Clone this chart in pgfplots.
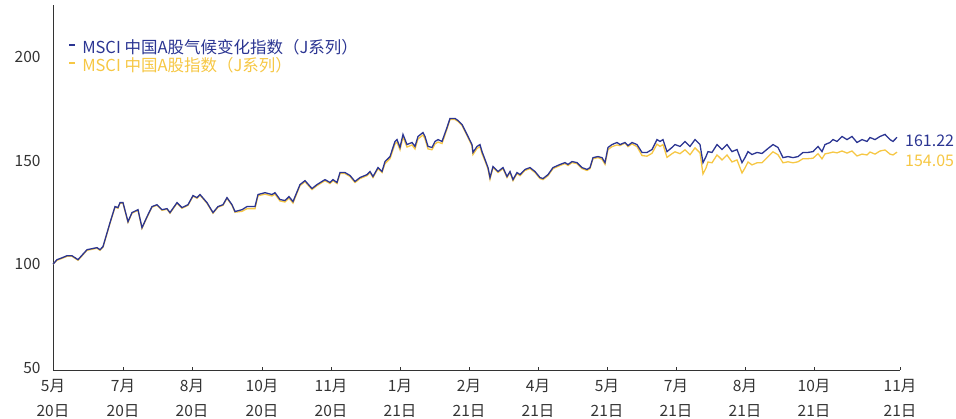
\documentclass[border=0pt]{standalone}
\usepackage{pgfplots}
\pgfplotsset{compat=1.18}
\usepackage{pgfplotstable}
\usepackage{fontspec}
\setmainfont{Noto Sans CJK SC}
\definecolor{cblue}{HTML}{2B3592}
\definecolor{cyel}{HTML}{F6C744}
\definecolor{ctxt}{HTML}{333333}

\pgfplotstableread{
x v
53 100.0
57 102.2
62 103.1
67 104.1
72 104.1
78 102.2
87 107.0
92 107.5
97 108.0
100 107.0
103 108.5
110 120.0
115 127.8
118 127.3
120 129.7
123 129.7
128 120.5
132 124.9
138 126.3
142 117.6
147 122.9
152 127.8
157 128.7
162 126.3
167 126.8
170 124.9
177 129.7
182 127.3
188 128.7
193 133.1
197 132.1
200 133.6
207 129.7
213 124.9
218 127.8
223 128.7
227 132.1
232 128.7
235 125.4
242 126.3
247 127.8
255 127.8
258 133.6
265 134.5
272 133.6
275 134.5
280 131.2
285 130.7
289 132.6
293 130.2
300 138.4
305 140.3
312 136.5
317 138.4
325 140.8
330 139.4
333 140.8
337 139.4
340 144.2
345 144.2
350 142.8
355 139.9
360 141.8
367 143.2
370 144.7
373 142.3
378 146.6
382 144.7
385 149.5
390 151.9
395 159.2
397 160.1
400 156.3
403 162.6
407 157.7
412 158.7
415 156.8
418 161.6
423 163.5
425 161.6
428 156.8
432 156.3
435 159.2
438 160.1
442 159.2
447 165.9
450 170.3
455 170.3
458 169.3
462 167.4
467 162.6
472 157.7
473 153.9
477 156.8
480 157.7
482 154.3
485 150.5
488 146.6
490 141.8
493 147.1
498 144.7
503 146.6
507 142.3
510 144.7
513 140.8
517 144.2
520 143.2
525 145.7
530 146.6
535 144.7
540 141.8
543 141.3
548 143.2
553 146.6
560 148.1
565 149.0
568 148.1
572 149.5
577 149.0
582 146.6
587 145.7
590 146.6
593 151.4
598 151.9
602 151.4
605 149.0
608 156.3
612 157.7
617 158.7
620 157.7
625 158.7
628 157.2
632 158.7
637 157.7
642 153.9
647 153.9
652 155.3
657 160.1
660 159.2
663 160.1
667 154.3
672 156.3
675 157.7
680 156.8
685 159.2
690 156.8
695 160.1
700 157.7
703 149.0
706 151.9
708 154.3
712 153.9
717 157.7
722 155.3
727 157.7
732 154.3
737 155.3
742 149.0
745 151.4
748 154.3
752 152.9
757 153.9
762 153.4
768 155.8
773 157.7
778 156.3
783 151.4
788 151.9
793 151.4
798 151.9
803 153.9
808 153.9
813 154.3
818 156.8
822 154.3
825 157.7
830 158.7
833 160.1
837 159.2
842 161.6
847 160.1
852 161.6
857 158.7
862 160.1
867 159.2
870 161.1
875 160.1
880 161.6
885 162.6
890 160.1
893 159.2
897 161.22
}\climate

\pgfplotstableread{
x v
53 100.0
57 101.9
62 102.8
67 103.8
72 103.8
78 101.9
87 106.7
92 107.2
97 107.7
100 106.7
103 108.2
110 119.7
115 127.5
118 127.0
120 129.4
123 129.4
128 120.2
132 124.6
138 126.0
142 117.3
147 122.6
152 127.5
157 128.4
162 126.0
167 126.5
170 124.6
177 129.4
182 127.0
188 128.4
193 132.8
197 131.8
200 133.3
207 129.4
213 124.6
218 127.5
223 128.4
227 131.8
232 128.4
235 125.1
242 125.5
247 126.8
255 126.8
258 133.0
265 133.8
272 132.9
275 133.8
280 130.5
285 130.0
289 131.9
293 129.5
300 137.9
305 139.8
312 136.0
317 137.9
325 140.3
330 138.9
333 140.3
337 138.9
340 143.7
345 143.7
350 142.3
355 139.4
360 141.3
367 142.7
370 144.2
373 141.8
378 146.1
382 144.2
385 148.5
390 150.9
395 158.0
397 158.9
400 155.2
403 161.3
407 156.5
412 157.5
415 155.6
418 160.4
423 162.3
425 160.4
428 155.6
432 155.2
435 158.0
438 158.9
442 158.2
447 165.2
450 169.8
455 169.8
458 168.8
462 166.9
467 162.1
472 157.0
473 152.9
477 155.8
480 156.7
482 153.3
485 149.8
488 145.9
490 141.0
493 146.6
498 144.2
503 146.1
507 141.8
510 144.2
513 140.3
517 143.7
520 142.7
525 145.2
530 146.1
535 144.2
540 141.3
543 140.8
548 142.7
553 146.1
560 147.6
565 148.5
568 147.6
572 149.0
577 148.5
582 146.1
587 145.2
590 146.1
593 150.9
598 151.4
602 150.6
605 148.2
608 155.3
612 156.7
617 157.5
620 157.2
625 158.4
628 156.7
632 158.0
637 156.7
642 152.4
647 152.1
652 153.5
657 157.9
660 156.8
663 157.7
667 151.5
672 153.3
675 154.2
680 153.3
685 155.2
690 152.8
695 156.1
700 153.7
703 143.5
706 146.4
708 149.3
712 148.9
717 152.7
722 150.3
727 152.7
732 149.3
737 150.3
742 144.0
745 146.4
748 149.3
752 147.9
757 148.9
762 148.9
768 151.8
773 154.2
778 152.8
783 148.9
788 149.4
793 148.9
798 149.4
803 150.9
808 150.9
813 151.1
818 153.3
822 150.8
825 153.2
830 153.7
833 154.1
837 153.7
842 154.6
847 153.6
852 154.6
857 152.2
862 153.1
867 152.7
870 154.1
875 153.1
880 154.6
885 155.1
890 153.1
893 152.7
897 154.05
}\market

\begin{document}
\begin{tikzpicture}
\useasboundingbox (0,0) rectangle (956pt,419pt);
\begin{axis}[
  at={(53pt,49pt)}, anchor=south west,
  scale only axis, width=847pt, height=365pt,
  xmin=53, xmax=900, ymin=49, ymax=225,
  axis x line=bottom, axis y line=left,
  axis line style={-, draw=ctxt, line width=0.9pt},
  xtick={53,123,192,262,331,400,469,538,607,676,745,814,900},
  xticklabels={5月\\20日,7月\\20日,8月\\20日,10月\\20日,11月\\20日,1月\\21日,2月\\21日,4月\\21日,5月\\21日,7月\\21日,8月\\21日,10月\\21日,11月\\21日},
  xticklabel style={align=center, font=\fontsize{15.5}{25}\selectfont, text=ctxt, yshift=-6pt},
  ytick={50,100,150,200},
  yticklabel style={font=\fontsize{15.5}{17}\selectfont, text=ctxt, xshift=-9pt},
  /pgf/number format/assume math mode=true,
  xtick style={draw=ctxt, line width=0.6pt},
  major tick length=3pt,
  ytick style={draw=none},
  tick align=inside,
  clip=false,
  legend style={at={(0.018,0.91)}, anchor=north west, draw=none, fill=none,
    font=\fontsize{16.5}{19}\selectfont, row sep=0pt, inner sep=0pt,
    legend cell align=left,
    nodes={inner xsep=6pt, inner ysep=1.2pt}},
  legend image code/.code={\draw[#1, line width=1.8pt] (0pt,2pt) -- (6pt,2pt);},
]
\addplot[cyel, line width=1.3pt, forget plot] table[x=x,y=v] {\market};
\addplot[cblue, line width=1.3pt] table[x=x,y=v] {\climate};
\addlegendentry{\textcolor{cblue}{MSCI 中国A股气候变化指数（J系列）}}
\addlegendimage{cyel}
\addlegendentry{\textcolor{cyel}{MSCI 中国A股指数（J系列）}}
\node[anchor=west, text=cblue, font=\fontsize{16}{18}\selectfont, inner sep=0pt] at (axis cs:905,159.3) {161.22};
\node[anchor=west, text=cyel, font=\fontsize{16}{18}\selectfont, inner sep=0pt] at (axis cs:905,150.0) {154.05};
\end{axis}
\end{tikzpicture}
\end{document}
